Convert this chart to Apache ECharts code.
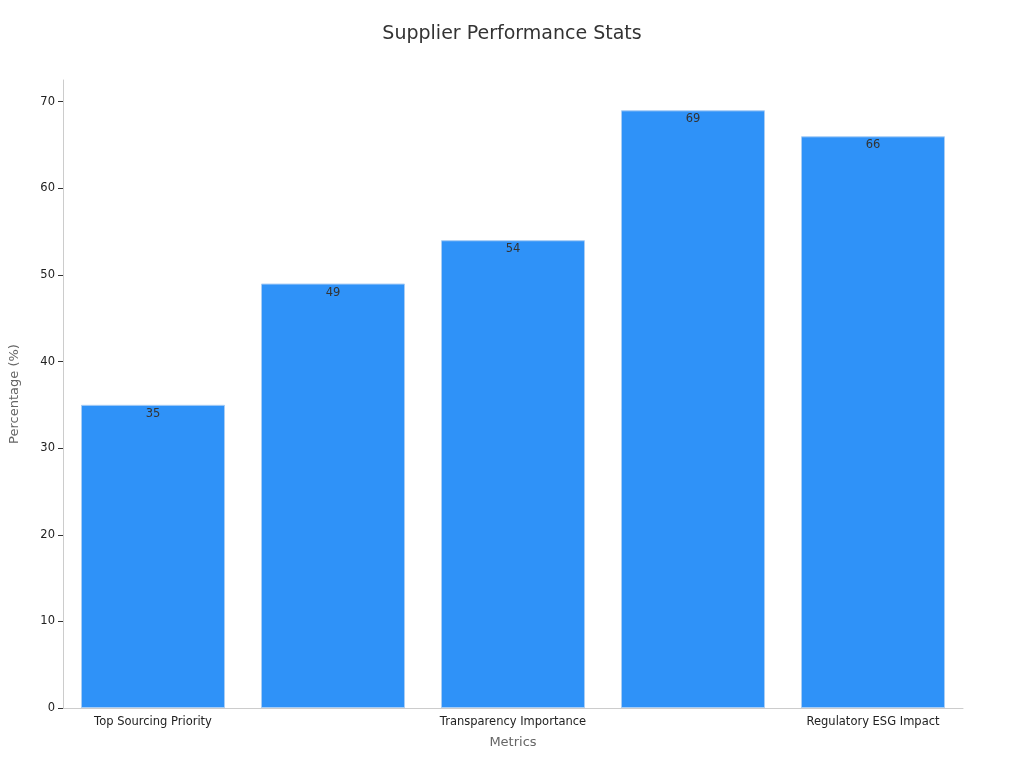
<!DOCTYPE html>
<html><head><meta charset="utf-8">
<script src="https://cdn.jsdelivr.net/npm/echarts@6/dist/echarts.min.js"></script>
<style>html,body{margin:0;padding:0;background:#fff}#c{width:1024px;height:768px}</style>
</head><body><div id="c"></div>
<script>
const categories = ["Top Sourcing Priority","Contract Renegotiations","Transparency Importance","Diversify Suppliers","Regulatory ESG Impact"];
const values = [35,49,54,69,66];
const chart = echarts.init(document.getElementById('c'));
chart.setOption({
  textStyle:{fontFamily:'DejaVu Sans'},
  title:{text:'Supplier Performance Stats',left:'center',top:20,textStyle:{fontSize:19,fontWeight:'normal',color:'#333',fontFamily:'DejaVu Sans'}},
  grid:{left:60,right:61,top:80,bottom:60},
  xAxis:{type:'category',data:categories,name:'Metrics',nameLocation:'middle',nameGap:28,
    nameTextStyle:{fontSize:13,color:'#666'},
    axisLine:{lineStyle:{color:'#ccc'}},axisTick:{show:false},
    axisLabel:{color:'#222',fontSize:11.5}},
  yAxis:{type:'value',min:0,max:72.5,interval:10,name:'Percentage (%)',nameLocation:'middle',nameGap:42,
    nameTextStyle:{fontSize:13,color:'#666'},
    axisLine:{show:true,lineStyle:{color:'#ccc'}},axisTick:{show:true,lineStyle:{color:'#333'}},
    axisLabel:{color:'#222',fontSize:11.5,showMaxLabel:false},splitLine:{show:false}},
  series:[{type:'bar',data:values,barCategoryGap:'20%',
    itemStyle:{color:'#2f92f8',borderColor:'#a8cdf5',borderWidth:1},
    label:{show:true,position:'insideTop',offset:[0,-2],color:'#333',fontSize:11.5}}]
});
</script></body></html>
